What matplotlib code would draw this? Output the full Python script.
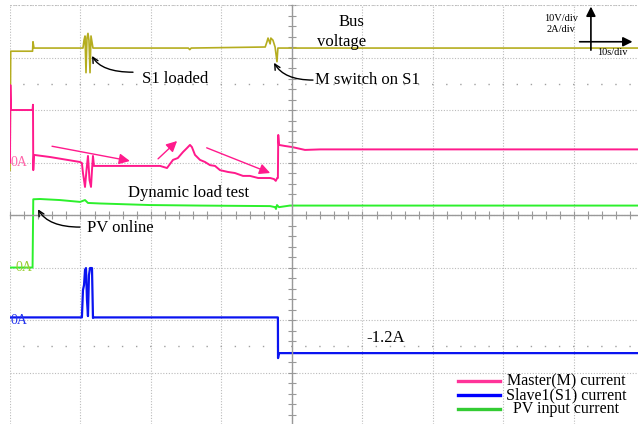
import matplotlib
matplotlib.use('Agg')
import matplotlib.pyplot as plt
from matplotlib.ticker import MultipleLocator

plt.rcParams['font.family'] = ['Liberation Serif', 'DejaVu Serif']

# Scope settings: 10 s/div horizontally, 10 V/div and 2 A/div vertically
t_div = 10.0
v_div = 10.0
a_div = 2.0

# Channel zero offsets in divisions (screen centre = 0)
bus_offset = 0.85
master_offset = 1.0
pv_offset = -1.0
slave_offset = -2.0

# Bus voltage (V)
bus_t = [0, 0.1, 3.2, 3.26, 3.4, 10.35, 10.5, 10.64, 10.78, 10.92, 11.06, 11.2, 11.35,
         11.49, 11.77, 25.3, 25.5, 25.7, 36.2, 36.45, 36.6, 36.9, 37.0, 37.3, 37.6,
         37.87, 38.0, 89.1]
bus_v = [0, 22.7, 22.7, 24.5, 23.3, 23.3, 24.8, 25.6, 18.6, 25.2, 26.1, 24.8, 18.6,
         25.6, 23.3, 23.3, 23.0, 23.3, 23.5, 24.5, 25.2, 24.1, 25.2, 24.8, 23.5,
         20.7, 23.3, 23.3]

# Master (M) current (A)
master_t = [0, 0.05, 0.15, 3.2, 3.26, 3.3, 3.4, 5.67, 9.93, 10.2, 10.35, 10.5, 10.64,
            10.85, 11.06, 11.28, 11.49, 11.63, 11.77, 11.91, 21.3, 22.27, 23.12, 23.8,
            24.54, 25.1, 25.53, 25.8, 26.24, 26.95, 27.66, 28.37, 29.08, 29.79, 30.92,
            31.9, 33.05, 34.04, 35.2, 36.9, 37.45, 37.7, 37.9, 38.0, 38.05, 38.15, 39.0,
            40.0, 41.84, 44.0, 89.1]
master_a = [0, 2.95, 2.0, 2.0, 2.2, -0.29, 0.29, 0.21, 0.02, -0.02, -0.4, -0.67, -0.93,
            -0.29, 0.25, -0.67, -0.93, -0.29, 0.25, -0.13, -0.13, -0.21, 0.1, 0.17,
            0.4, 0.55, 0.67, 0.59, 0.29, 0.1, 0.02, -0.1, -0.13, -0.29, -0.36,
            -0.4, -0.51, -0.51, -0.59, -0.59, -0.63, -0.7, -0.59, -0.59, 1.05, 0.67, 0.63,
            0.59, 0.48, 0.5, 0.5]

# Slave1 (S1) current (A)
slave_t = [0, 10.2, 10.35, 10.5, 10.64, 10.78, 10.92, 11.06, 11.2, 11.35, 11.63, 11.77,
           11.91, 38.0, 38.02, 38.15, 89.1]
slave_a = [0.1, 0.1, 1.14, 1.33, 1.9, 1.98, 0.76, 0.15, 1.71, 1.98, 1.98, 0.08,
           0.1, 0.1, -1.45, -1.26, -1.26]

# PV input current (A)
pv_t = [0, 3.2, 3.3, 4.26, 7.09, 9.93, 10.64, 11.06, 12.77, 19.86, 26.95, 36.9, 37.6,
        37.73, 37.87, 38.15, 39.7, 89.1]
pv_a = [0, 0, 2.6, 2.61, 2.57, 2.5, 2.57, 2.46, 2.44, 2.38, 2.36, 2.34, 2.3,
        2.23, 2.38, 2.3, 2.36, 2.36]

legend_labels = ['Master(M) current', 'Slave1(S1) current', 'PV input current']
legend_colors = ['#ff3399', '#0000ff', '#33cc33']

fig = plt.figure(figsize=(6.38, 4.24), dpi=100)
ax = fig.add_axes([10 / 638, 0, 628 / 638, 419 / 424])
ax.set_xlim(0, 89.08)
ax.set_ylim(-3.98, 4.0)

# graticule
ax.xaxis.set_major_locator(MultipleLocator(t_div))
ax.yaxis.set_major_locator(MultipleLocator(1))
ax.xaxis.set_minor_locator(MultipleLocator(t_div / 5))
ax.yaxis.set_minor_locator(MultipleLocator(0.2))
ax.grid(True, which='major', color='#bbbbbb', linestyle=(0, (1, 1.5)), linewidth=0.8)
ax.axhline(4.0, color='#bbbbbb', linestyle=(0, (1, 1.5)), linewidth=1.2)
for yy in (2.5, -2.5):
    ax.axhline(yy, color='#a0a0a0', linestyle=(1, (1, 9.15)), linewidth=1)
for s in ['top', 'right']:
    ax.spines[s].set_visible(False)
ax.spines['left'].set_position(('data', 4 * t_div))
ax.spines['bottom'].set_position(('data', 0))
for s in ['left', 'bottom']:
    ax.spines[s].set_color('#999999')
    ax.spines[s].set_linewidth(1.0)
ax.tick_params(which='both', direction='inout', length=6, width=0.8, color='#999999',
               labelleft=False, labelbottom=False)

# traces
ax.plot(bus_t, [v / v_div + bus_offset for v in bus_v], color='#b5ad1f', lw=1.2)
ax.plot(pv_t, [a / a_div + pv_offset for a in pv_a], color='#2cf02c', lw=1.4)
ax.plot(slave_t, [a / a_div + slave_offset for a in slave_a], color='#0a14f0', lw=1.6)
ax.plot(master_t, [a / a_div + master_offset for a in master_a], color='#ff1a8c', lw=1.4)

# channel zero markers
ax.text(0.14, master_offset, '0A', color='#ff66aa', fontsize=10, va='center')
ax.text(0.71, pv_offset, '0A', color='#9acd32', fontsize=10, va='center')
ax.text(0.14, slave_offset, '0A', color='#2233ee', fontsize=10, va='center')

# annotations
ax.text(48.4, 3.68, 'Bus', fontsize=12, ha='center', va='center')
ax.text(47.1, 3.30, 'voltage', fontsize=12, ha='center', va='center')
ax.text(18.7, 2.59, 'S1 loaded', fontsize=12, va='center')
ax.text(43.3, 2.57, 'M switch on S1', fontsize=12, va='center')
ax.text(16.7, 0.42, 'Dynamic load test', fontsize=12, va='center')
ax.text(10.9, -0.25, 'PV online', fontsize=12, va='center')
ax.text(50.6, -2.34, '-1.2A', fontsize=12, va='center')

black_arrow = dict(arrowstyle='->', color='black', lw=1,
                   connectionstyle='angle3,angleA=0,angleB=120', shrinkA=0, shrinkB=0)
ax.annotate('', xy=(11.63, 3.03), xytext=(17.45, 2.72), arrowprops=black_arrow)
ax.annotate('', xy=(37.45, 2.9), xytext=(42.98, 2.57), arrowprops=black_arrow)
ax.annotate('', xy=(3.97, 0.11), xytext=(9.93, -0.23), arrowprops=black_arrow)

pink_arrow = dict(arrowstyle='-|>', color='#ff1a8c', lw=1, mutation_scale=16,
                  shrinkA=0, shrinkB=0)
ax.annotate('', xy=(17.0, 1.03), xytext=(5.96, 1.31), arrowprops=pink_arrow)
ax.annotate('', xy=(23.7, 1.41), xytext=(21.0, 1.07), arrowprops=pink_arrow)
ax.annotate('', xy=(36.9, 0.80), xytext=(27.9, 1.28), arrowprops=pink_arrow)

# scale indicator
ax.text(78.2, 3.75, '10V/div', fontsize=7.5, ha='center', va='center')
ax.text(78.2, 3.54, '2A/div', fontsize=7.5, ha='center', va='center')
ax.text(85.4, 3.09, '10s/div', fontsize=7.5, ha='center', va='center')
scale_arrow = dict(arrowstyle='-|>', color='black', lw=1.2, mutation_scale=14,
                   shrinkA=0, shrinkB=0)
ax.annotate('', xy=(82.4, 3.97), xytext=(82.4, 3.14), arrowprops=scale_arrow)
ax.annotate('', xy=(88.3, 3.3), xytext=(80.8, 3.3), arrowprops=scale_arrow)

# legend (rows are packed tightly, as on the original)
for i, (lab, col) in enumerate(zip(legend_labels, legend_colors)):
    yy = 0.1026 - i * 0.0334
    ax.plot([0.713, 0.780], [yy, yy], color=col, lw=2.4, transform=ax.transAxes)
    ax.text(0.885, yy, lab, fontsize=11.5, ha='center', va='center',
            transform=ax.transAxes)

fig.savefig('out.png', dpi=100)
